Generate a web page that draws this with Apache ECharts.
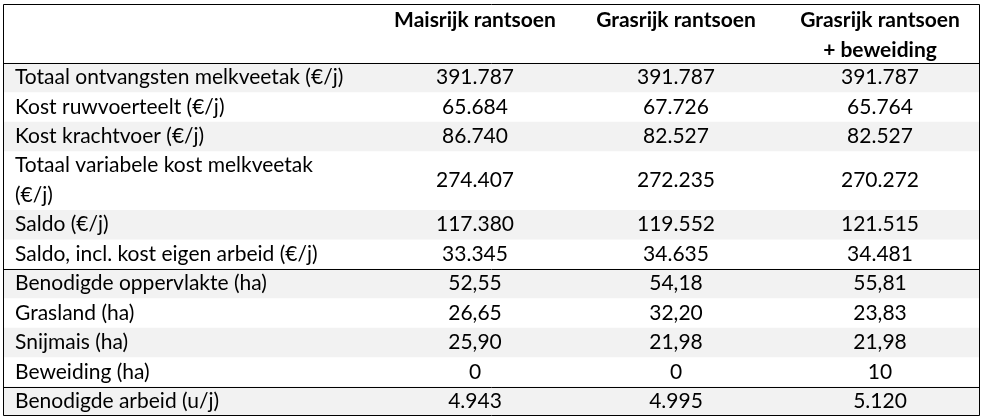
<!DOCTYPE html><html><head><meta charset="utf-8"><script src="https://cdn.jsdelivr.net/npm/echarts@6/dist/echarts.min.js"></script>
<style>html,body{margin:0;background:#fff}#c{width:982px;height:420px}</style></head><body><div id="c"></div><script>
const headers=["Maisrijk rantsoen","Grasrijk rantsoen","Grasrijk rantsoen\n+ beweiding"];
const labels=["Totaal ontvangsten melkveetak (€/j)","Kost ruwvoerteelt (€/j)","Kost krachtvoer (€/j)","Totaal variabele kost melkveetak\n(€/j)","Saldo (€/j)","Saldo, incl. kost eigen arbeid (€/j)","Benodigde oppervlakte (ha)","Grasland (ha)","Snijmais (ha)","Beweiding (ha)","Benodigde arbeid (u/j)"];
const maisrijk=["391.787","65.684","86.740","274.407","117.380","33.345","52,55","26,65","25,90","0","4.943"];
const grasrijk=["391.787","67.726","82.527","272.235","119.552","34.635","54,18","32,20","21,98","0","4.995"];
const beweiding=["391.787","65.764","82.527","270.272","121.515","34.481","55,81","23,83","21,98","10","5.120"];
const groupEnds=[5,9];
const cols=[maisrijk,grasrijk,beweiding];
const colX=[475,676,880];
const FONT='21px Lato, "Noto Sans", sans-serif';
let starts=[],acc=2;labels.forEach(l=>{starts.push(acc);acc+=l.split("\n").length;});
const total=acc;
const data=labels.map((l,i)=>[i,starts[i],starts[i]+l.split("\n").length]);
const chart=echarts.init(document.getElementById('c'));
chart.setOption({animation:false,
grid:{left:0,right:0,top:4,bottom:4},
xAxis:{type:'value',min:0,max:982,show:false},
yAxis:{type:'value',min:0,max:total,inverse:true,show:false},
series:[{type:'custom',data:data,clip:false,renderItem:(p,api)=>{
 const i=api.value(0),y0=api.coord([0,api.value(1)])[1],y1=api.coord([0,api.value(2)])[1];
 const xl=api.coord([3,0])[0],xr=api.coord([980,0])[0];
 const ch=[];
 if(i%2===0)ch.push({type:'rect',shape:{x:xl,y:y0,width:xr-xl,height:y1-y0},style:{fill:'#f2f2f2'},z2:0});
 ch.push({type:'text',x:api.coord([15,0])[0],y:(y0+y1)/2,style:{text:labels[i],font:FONT,fill:'#000',verticalAlign:'middle',lineHeight:30},z2:5});
 cols.forEach((c,k)=>ch.push({type:'text',x:api.coord([colX[k],0])[0],y:(y0+y1)/2,style:{text:c[i],font:FONT,fill:'#000',align:'center',verticalAlign:'middle'},z2:5}));
 if(groupEnds.includes(i))ch.push({type:'line',shape:{x1:xl,y1:Math.round(y1)+.5,x2:xr,y2:Math.round(y1)+.5},style:{stroke:'#000',lineWidth:1},z2:20});
 if(i===0){
  const top=api.coord([0,0])[1];
  ch.push({type:'rect',shape:{x:xl+.5,y:top+.5,width:xr-xl-1,height:api.coord([0,total])[1]-top-1},style:{fill:'none',stroke:'#000',lineWidth:1},z2:20});
  ch.push({type:'line',shape:{x1:xl,y1:Math.round(y0)+.5,x2:xr,y2:Math.round(y0)+.5},style:{stroke:'#000',lineWidth:1},z2:20});
  headers.forEach((h,k)=>ch.push({type:'text',x:api.coord([colX[k],0])[0],y:top+1,style:{text:h,font:'bold '+FONT,fill:'#000',align:'center',verticalAlign:'top',lineHeight:30},z2:5}));
 }
 return {type:'group',children:ch};
}}]});
</script></body></html>
